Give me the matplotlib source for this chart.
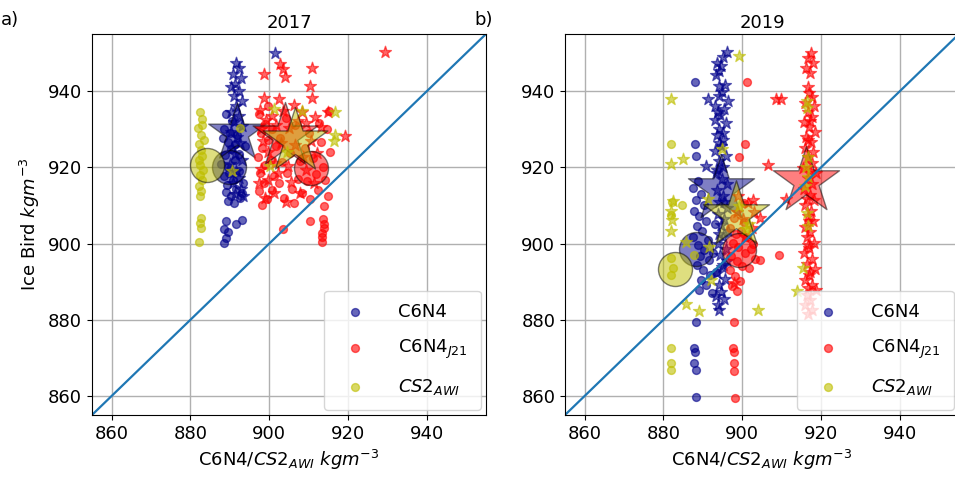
import numpy as np
import matplotlib
matplotlib.use('Agg')
import matplotlib.pyplot as plt

lims = [855, 955]
ticks = [860, 880, 900, 920, 940]
years = ['2017', '2019']
panels = ['a)', 'b)']
labels = ['C6N4', 'C6N4$_{J21}$', '$CS2_{AWI}$']
colors = ['darkblue', 'red', 'y']

# ---- 2017 ----
c6n4_o_2017 = [(889.0, 934.0), (890.6, 932.2), (888.6, 930.0), (891.8, 928.4), (889.4, 926.6),
               (890.2, 924.8), (888.8, 923.2), (891.2, 921.8), (889.6, 920.2), (892.2, 919.0),
               (888.6, 917.8), (890.8, 916.8), (893.4, 916.0), (889.2, 915.4), (891.6, 914.4),
               (888.9, 913.4), (890.4, 912.6), (892.6, 912.0), (889.6, 911.2), (891.0, 910.6),
               (893.8, 925.5), (887.8, 921.0), (893.0, 913.2), (890.0, 929.0), (892.4, 923.4),
               (889.8, 918.6), (891.4, 926.0), (888.2, 927.6),
               (888.9, 905.9), (891.5, 905.0), (893.1, 906.3), (888.4, 903.7), (889.5, 903.0),
               (888.9, 901.4), (888.4, 900.2)]
c6n4_s_2017 = [(891.6, 947.5), (892.2, 946.0), (890.8, 944.6), (892.8, 943.5), (891.2, 942.0),
               (890.2, 941.0), (892.4, 940.0), (891.0, 938.6), (893.0, 937.4), (891.6, 936.0),
               (890.4, 934.6), (892.2, 933.4), (891.0, 932.0), (893.2, 930.8), (890.2, 929.4),
               (891.8, 928.0), (892.6, 926.4), (890.6, 925.0), (891.4, 923.6), (893.0, 922.0),
               (890.0, 920.8), (891.6, 919.0), (892.4, 917.2), (890.8, 915.8), (892.8, 914.4),
               (891.2, 913.0), (893.4, 912.4), (901.5, 950.0)]
j21_o_2017 = [(897.4, 934.0), (898.8, 931.5), (897.8, 929.0), (899.6, 927.2), (898.2, 925.0),
              (897.2, 922.8), (899.0, 920.6), (897.6, 918.4), (898.6, 916.0), (897.4, 913.8),
              (899.4, 911.6), (898.2, 910.2), (900.8, 930.0), (901.6, 925.6), (900.4, 922.0),
              (901.2, 917.6), (900.6, 914.0), (902.6, 927.8), (903.2, 921.4), (902.4, 915.8),
              (903.8, 912.0), (904.6, 918.6), (905.2, 923.8), (905.8, 914.4), (906.4, 910.6),
              (907.2, 917.0), (907.8, 921.6), (908.4, 913.2), (909.0, 925.0), (909.6, 916.4),
              (910.4, 911.6), (911.0, 922.4), (911.8, 918.2), (912.4, 914.0), (913.0, 926.6),
              (913.6, 920.2), (914.2, 916.8), (914.8, 912.4), (915.2, 934.8), (914.6, 930.0),
              (912.6, 931.6), (910.2, 929.0), (906.6, 931.0), (904.2, 933.0), (899.8, 936.0),
              (915.4, 924.0), (913.8, 909.8),
              (903.6, 903.9), (910.4, 905.9), (913.6, 906.4), (913.8, 905.2), (914.0, 904.0),
              (913.4, 902.8), (913.3, 901.6), (913.4, 900.3)]
j21_s_2017 = [(898.6, 944.5), (902.8, 947.1), (904.0, 943.6), (903.4, 945.8), (910.8, 946.0),
              (910.4, 941.4), (910.8, 938.3), (898.6, 938.3), (902.4, 937.9), (908.3, 934.4),
              (915.0, 934.4), (919.2, 928.2), (907.8, 913.3), (901.1, 913.3), (929.4, 950.2),
              (897.6, 935.0), (899.2, 932.4), (898.0, 930.0), (900.6, 933.6), (901.8, 931.0),
              (903.4, 934.8), (905.0, 930.4), (906.2, 936.4), (907.4, 932.2), (909.2, 931.6),
              (911.6, 933.2), (913.2, 930.6), (898.4, 927.0), (899.8, 924.0), (901.4, 921.2),
              (903.0, 926.4), (904.8, 920.4), (906.6, 925.8), (908.6, 922.6), (910.6, 926.8),
              (912.2, 923.8), (897.8, 919.6), (899.6, 916.6), (902.2, 918.4), (905.6, 916.2),
              (909.4, 919.4), (911.4, 915.8), (898.8, 912.0), (904.2, 911.0), (897.4, 916.0)]
awi_o_2017 = [(882.3, 934.5), (882.8, 932.6), (883.0, 931.2), (882.0, 930.4), (882.6, 928.6),
              (883.4, 927.2), (882.2, 926.0), (882.7, 924.6), (883.0, 923.0), (882.1, 921.8),
              (882.5, 920.5), (883.2, 919.2), (882.4, 918.0), (882.8, 916.6), (882.1, 915.2),
              (882.6, 913.8), (882.3, 912.4), (882.7, 906.6), (882.4, 905.3), (882.6, 904.2),
              (882.2, 900.4), (892.5, 930.2)]
awi_s_2017 = [(890.5, 919.0), (901.1, 935.3), (908.3, 934.8), (900.3, 920.3), (904.5, 924.0),
              (916.7, 934.6), (916.8, 928.4), (916.4, 927.0)]

# group means (blue, red, yellow)
mean_o_2017 = [(889.9, 920.1), (910.5, 919.9), (884.2, 920.6)]
mean_s_2017 = [(891.8, 929.1), (904.0, 928.1), (906.6, 926.8)]

# ---- 2019 ----
c6n4_o_2019 = [(888.0, 942.3), (888.1, 926.2), (888.3, 923.0), (888.7, 916.4),
               (887.6, 914.6), (889.4, 913.0), (888.2, 911.4), (890.2, 910.0), (887.8, 908.6),
               (889.0, 907.2), (890.8, 906.0), (888.4, 904.6), (889.8, 903.2), (887.6, 901.8),
               (891.2, 901.0), (888.8, 899.6), (890.4, 898.2), (889.2, 896.8), (891.6, 895.6),
               (888.6, 894.4), (890.0, 893.0), (891.8, 891.8), (889.4, 890.4), (890.8, 889.2),
               (889.0, 887.8), (892.2, 887.0), (893.0, 905.0), (892.6, 897.4), (893.4, 892.6),
               (888.3, 879.5), (887.8, 872.6), (887.9, 871.6), (887.8, 868.6), (888.2, 866.8),
               (888.3, 859.7)]
c6n4_s_2019 = [(896.0, 950.2), (895.0, 949.0), (893.7, 947.5), (894.6, 946.6), (894.2, 945.4),
               (893.4, 944.2), (894.2, 941.4), (895.6, 941.6), (891.2, 937.9), (896.3, 937.4),
               (894.0, 938.6), (893.2, 936.0), (895.4, 935.2), (894.4, 933.8), (893.0, 932.4),
               (895.8, 931.6), (894.2, 930.0), (893.6, 928.4), (895.2, 927.2), (894.6, 925.6),
               (893.2, 924.2), (895.8, 923.0), (894.0, 921.6), (890.8, 920.3), (895.0, 920.0),
               (893.4, 918.6), (894.8, 917.0), (896.2, 915.6), (893.6, 914.0), (895.2, 912.4),
               (894.2, 910.8), (896.0, 909.4), (893.8, 907.8), (895.4, 906.4), (894.6, 904.8),
               (896.4, 903.2), (895.0, 901.6), (893.8, 900.0), (895.8, 898.6), (894.4, 897.0),
               (896.2, 895.4), (894.8, 893.8), (893.6, 892.2), (895.6, 890.8), (894.2, 889.2),
               (893.3, 886.1), (895.4, 885.4), (894.2, 882.6), (893.8, 883.8),
               (894.8, 939.8), (893.8, 934.4), (895.0, 929.0), (894.2, 926.4), (893.6, 919.4),
               (895.4, 911.0), (894.0, 902.6), (895.2, 894.4), (894.6, 887.4)]
j21_o_2019 = [(901.1, 942.3), (900.8, 926.2), (899.1, 922.8), (900.5, 910.7), (909.4, 897.1),
              (904.6, 895.8), (901.8, 893.6),
              (897.0, 904.0), (898.4, 902.4), (899.6, 903.4), (901.2, 901.6), (897.6, 900.2),
              (899.0, 899.0), (900.6, 897.6), (902.2, 898.6), (897.2, 896.8), (898.6, 895.4),
              (900.0, 894.2), (896.8, 893.0), (898.2, 891.6), (899.4, 890.2), (897.4, 888.8),
              (898.6, 887.6), (903.2, 896.0), (902.6, 899.8), (900.4, 905.6), (898.0, 906.8),
              (897.8, 879.5), (897.6, 872.6), (897.8, 871.4), (897.8, 868.6), (898.0, 866.6),
              (898.2, 859.4)]
j21_s_2019 = [(917.4, 950.0), (916.6, 948.6), (918.0, 947.4), (916.2, 946.0), (917.2, 944.8),
              (916.8, 941.2), (917.6, 938.4), (915.8, 937.0), (918.2, 936.0), (916.6, 934.6),
              (917.8, 933.2), (915.6, 931.8), (917.0, 930.6), (918.4, 929.4), (916.2, 928.0),
              (917.4, 926.6), (915.8, 925.2), (918.0, 924.0), (916.6, 922.6), (917.6, 921.2),
              (915.4, 919.8), (918.6, 918.6), (916.8, 917.2), (917.8, 915.6), (915.6, 914.2),
              (917.2, 912.8), (918.2, 911.4), (916.0, 910.0), (917.4, 908.6), (916.6, 907.2),
              (918.0, 905.8), (915.8, 904.4), (917.2, 903.0), (916.4, 901.6), (918.2, 900.2),
              (917.0, 898.8), (915.6, 897.4), (917.8, 896.0), (916.4, 894.6), (918.4, 893.2),
              (917.0, 891.8), (915.8, 890.4), (917.6, 889.0), (918.8, 887.8), (916.4, 886.6),
              (917.2, 885.2), (916.0, 883.8), (917.8, 882.6), (916.8, 881.4),
              (916.9, 939.6), (917.1, 932.2), (916.7, 927.2), (917.2, 919.0), (916.5, 911.8),
              (917.0, 906.0), (916.8, 899.6), (917.3, 892.6), (916.6, 888.2),
              (909.8, 937.9), (908.6, 937.9), (906.4, 920.6), (911.0, 911.6),
              (899.0, 912.4), (901.4, 910.6), (903.0, 908.2), (900.2, 906.4), (902.4, 904.0),
              (904.4, 906.6), (898.6, 908.4), (900.6, 901.8), (902.8, 911.4), (898.0, 889.6)]
awi_o_2019 = [(881.9, 926.2), (884.6, 910.2), (882.0, 907.6), (882.2, 910.8), (881.9, 896.2),
              (882.3, 893.6), (882.0, 891.7), (881.9, 872.6), (881.9, 868.6), (881.9, 866.8),
              (887.8, 897.1)]
awi_s_2019 = [(899.1, 949.1), (881.9, 937.9), (881.9, 920.8), (884.9, 922.3), (894.9, 924.7),
              (882.4, 911.1), (881.9, 908.5), (882.2, 906.3), (881.9, 903.2), (891.2, 911.6),
              (885.7, 900.4), (891.6, 899.1), (885.7, 884.2), (889.1, 882.2), (892.1, 890.3),
              (903.9, 882.6), (916.5, 937.4), (916.4, 935.6), (916.6, 922.8), (916.2, 920.0),
              (916.8, 917.4), (916.0, 915.2), (916.4, 908.0), (916.6, 904.6), (915.3, 893.6),
              (914.0, 887.6), (899.2, 909.8), (901.8, 905.0), (900.9, 903.7)]

mean_o_2019 = [(888.3, 898.5), (899.2, 898.4), (882.8, 893.2)]
mean_s_2019 = [(894.7, 914.2), (916.1, 916.4), (898.4, 907.6)]

circles = {'2017': [c6n4_o_2017, j21_o_2017, awi_o_2017],
           '2019': [c6n4_o_2019, j21_o_2019, awi_o_2019]}
stars = {'2017': [c6n4_s_2017, j21_s_2017, awi_s_2017],
         '2019': [c6n4_s_2019, j21_s_2019, awi_s_2019]}
means_o = {'2017': mean_o_2017, '2019': mean_o_2019}
means_s = {'2017': mean_s_2017, '2019': mean_s_2019}
star_size = {'2017': [1900, 2400, 2400], '2019': [2500, 2500, 2500]}

fig = plt.figure(figsize=(9.55, 4.84), dpi=100)
ax1 = fig.add_axes([0.0963, 0.1426, 0.4126, 0.7872])
ax2 = fig.add_axes([0.5916, 0.1426, 0.4126, 0.7872])

for ax, yr, pl in zip([ax1, ax2], years, panels):
    ax.set_axisbelow(True)
    ax.grid(True, color='#b0b0b0', lw=1)
    for i in range(3):
        o = np.array(circles[yr][i])
        s = np.array(stars[yr][i])
        ax.scatter(o[:, 0], o[:, 1], s=32, c=colors[i], alpha=0.6, label=labels[i])
        ax.scatter(s[:, 0], s[:, 1], s=80, c=colors[i], marker='*', alpha=0.6)
        mo = means_o[yr][i]
        ms = means_s[yr][i]
        ax.scatter(mo[0], mo[1], s=600, c=colors[i], alpha=0.5, edgecolors='k', linewidths=1)
        ax.scatter(ms[0], ms[1], s=star_size[yr][i], c=colors[i], marker='*', alpha=0.5,
                   edgecolors='k', linewidths=1)
    ax.plot(lims, lims, color='#1f77b4', lw=1.6)
    ax.set_xlim(lims)
    ax.set_ylim(lims)
    ax.set_xticks(ticks)
    ax.set_yticks(ticks)
    ax.tick_params(labelsize=13)
    ax.set_title(yr, fontsize=13, pad=4)
    ax.text(-0.23, 1.012, pl, transform=ax.transAxes, fontsize=13, va='bottom')
    ax.set_xlabel('C6N4/$CS2_{AWI}$ $kgm^{-3}$', fontsize=13)
    ax.legend(loc='lower right', fontsize=13, labelspacing=0.9, borderpad=0.7,
              handletextpad=1.4, borderaxespad=0.3, scatterpoints=1)

ax1.set_ylabel('Ice Bird $kgm^{-3}$', fontsize=13)

plt.savefig('out.png', dpi=100)
